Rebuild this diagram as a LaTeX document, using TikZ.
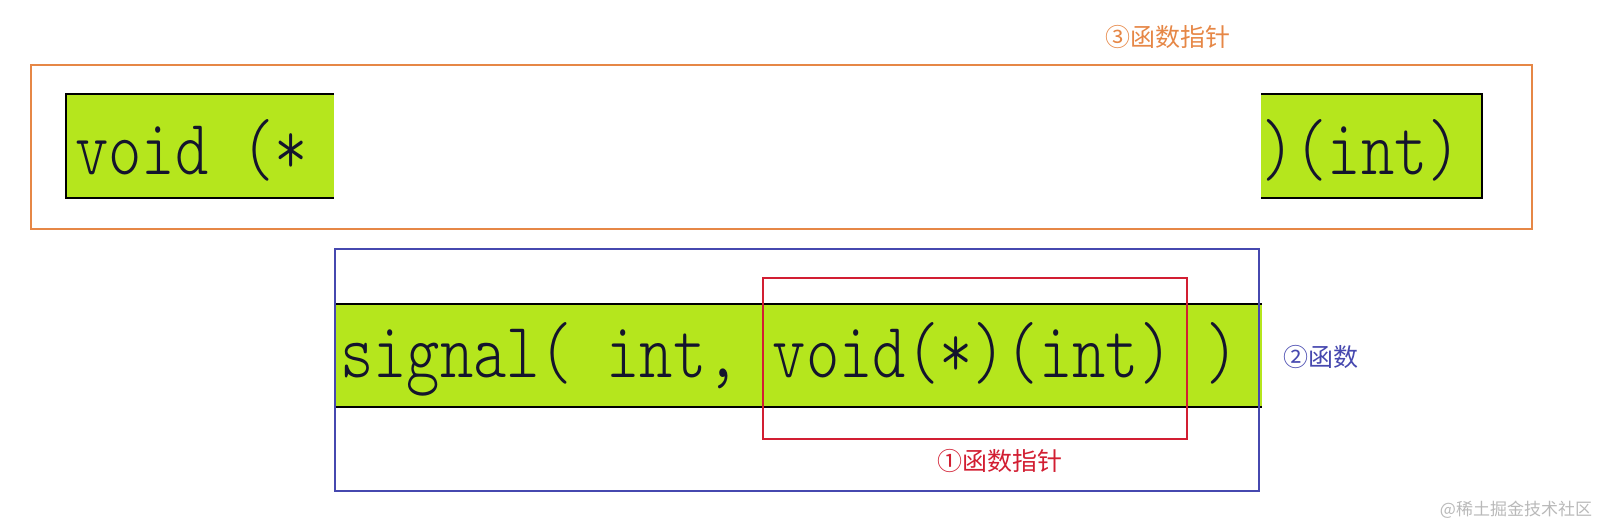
\documentclass[tikz,border=0pt]{standalone}
\usepackage{fontspec}
\newfontfamily\cjk{Noto Sans CJK SC}
\newfontfamily\codemono{Latin Modern Mono Light}
\definecolor{lime}{RGB}{181,230,29}
\definecolor{orangeline}{RGB}{230,135,70}
\definecolor{blueline}{RGB}{70,72,175}
\definecolor{redline}{RGB}{210,30,50}
\definecolor{codeink}{RGB}{20,20,45}
\definecolor{wmgray}{RGB}{185,185,185}
\tikzset{
  codetext/.style={inner sep=0pt, anchor=base west, text=codeink, font=\fontsize{63.4}{70}\selectfont\codemono},
  cjklabel/.style={inner sep=0pt, font=\fontsize{25}{28}\selectfont\cjk},
  greenfill/.style={fill=lime, draw=none},
  blackedge/.style={draw=black, line width=2.8pt},
}
\newcommand{\tall}[1]{\scalebox{1}[1.245]{#1}}
\begin{document}
\begin{tikzpicture}[x=1pt,y=-1pt]
\useasboundingbox (0,0) rectangle (1604,527);
% top pointer box (3)
\draw[orangeline, line width=2pt] (31,65) rectangle (1532,229);
\fill[greenfill] (66,94) rectangle (334,198);
\draw[blackedge] (334,94) -- (66,94) -- (66,198) -- (334,198);
\fill[greenfill] (1261,94) rectangle (1482,198);
\draw[blackedge] (1261,94) -- (1482,94) -- (1482,198) -- (1261,198);
\node[codetext] (t1) at (75,174) {\tall{void (*}};
\node[codetext] (t2) at (1261,174) {\tall{)(int)}};
\node[cjklabel, text=orangeline] (l3) at (1168,37) {③函数指针};
% function band (2)
\fill[greenfill] (335,304) rectangle (1262,407);
\draw[blackedge] (335,304) -- (1262,304);
\draw[blackedge] (335,407) -- (1262,407);
\node[codetext] (t3) at (340,377) {\tall{signal( int, void(*)(int) )}};
\draw[blueline, line width=2pt] (335,249) rectangle (1259,491);
\node[cjklabel, text=blueline] (l2) at (1321,357) {②函数};
% pointer box (1)
\draw[redline, line width=2pt] (763,278) rectangle (1187,439);
\node[cjklabel, text=redline] (l1) at (1000,461) {①函数指针};
% watermark
\node[inner sep=0pt, text=wmgray, font=\fontsize{17}{20}\selectfont\cjk] (wm) at (1516,510) {@稀土掘金技术社区};
\end{tikzpicture}
\end{document}
